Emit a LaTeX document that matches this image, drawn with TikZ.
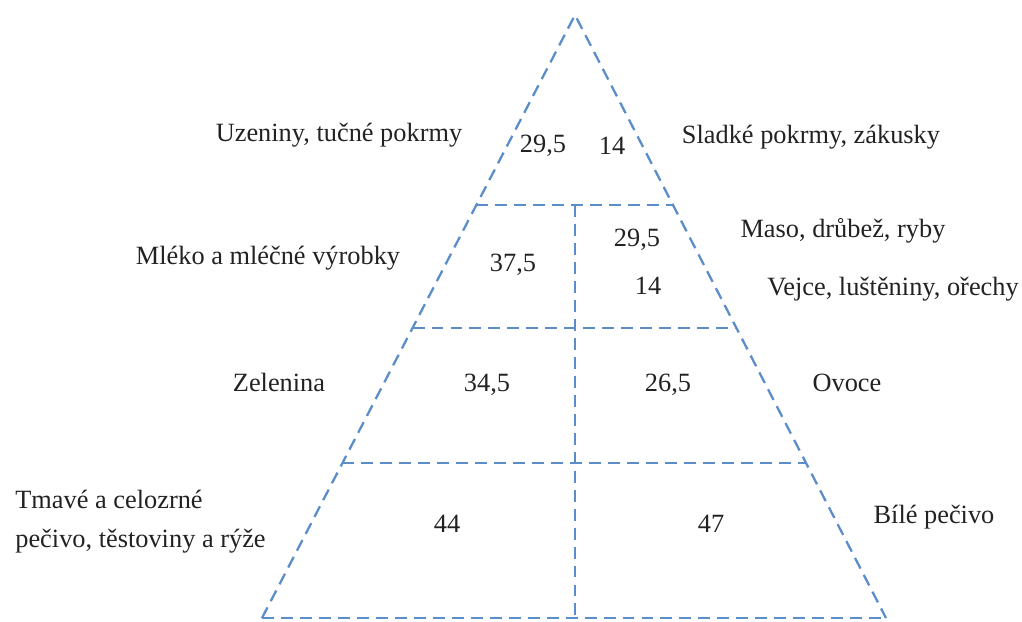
\documentclass[tikz,border=0pt]{standalone}
\usepackage{fontspec}
\setmainfont{Liberation Serif}
\usetikzlibrary{calc}
\definecolor{pyrblue}{HTML}{5B8DC9}
\definecolor{txtgray}{HTML}{222222}

\begin{document}
\begin{tikzpicture}[x=0.02cm, y=-0.02cm,
  pyr/.style={draw=pyrblue, line width=1.3pt, dash pattern=on 6.8pt off 4pt},
  lbl/.style={text=txtgray, font=\fontsize{15}{18}\selectfont, inner sep=0pt},
  num/.style={lbl}]

\useasboundingbox (0,0) rectangle (1022,622);

% Pyramid corners
\coordinate (apex) at (575,15);
\coordinate (bl) at (262,618);
\coordinate (br) at (886,618);

% Level borders on the sides
\coordinate (l1) at ($(apex)!0.315!(bl)$);
\coordinate (r1) at ($(apex)!0.315!(br)$);
\coordinate (l2) at ($(apex)!0.519!(bl)$);
\coordinate (r2) at ($(apex)!0.519!(br)$);
\coordinate (l3) at ($(apex)!0.743!(bl)$);
\coordinate (r3) at ($(apex)!0.743!(br)$);
\coordinate (mtop) at (575,205);
\coordinate (mbot) at (575,618);

% Outline
\draw[pyr] (bl) -- (apex) -- (br);
\draw[pyr] (bl) -- (br);

% Levels
\draw[pyr] (l1) -- (r1);
\draw[pyr] (l2) -- (r2);
\draw[pyr] (l3) -- (r3);
\draw[pyr] (mtop) -- (mbot);

% Top level
\node[lbl] (uzen) at (339,135) {Uzeniny, tučné pokrmy};
\node[num] (n1a) at (543,146) {29,5};
\node[num] (n1b) at (612,146) {14};
\node[lbl] (sladke) at (811,137) {Sladké pokrmy, zákusky};

% Second level
\node[lbl] (mleko) at (268,258) {Mléko a mléčné výrobky};
\node[num] (n2a) at (513,265) {37,5};
\node[num] (n2b) at (637,240) {29,5};
\node[num] (n2c) at (648,286) {14};
\node[lbl] (maso) at (843,231) {Maso, drůbež, ryby};
\node[lbl] (vejce) at (893,289) {Vejce, luštěniny, ořechy};

% Third level
\node[lbl] (zelen) at (279,382) {Zelenina};
\node[num] (n3a) at (487,385) {34,5};
\node[num] (n3b) at (668,385) {26,5};
\node[lbl] (ovoce) at (847,383) {Ovoce};

% Bottom level
\node[lbl, anchor=west, align=left] (tmave) at (15,522)
  {Tmavé a celozrné\\[4pt]pečivo, těstoviny a rýže};
\node[num] (n4a) at (447,524) {44};
\node[num] (n4b) at (711,524) {47};
\node[lbl] (bile) at (934,517) {Bílé pečivo};

\end{tikzpicture}
\end{document}
